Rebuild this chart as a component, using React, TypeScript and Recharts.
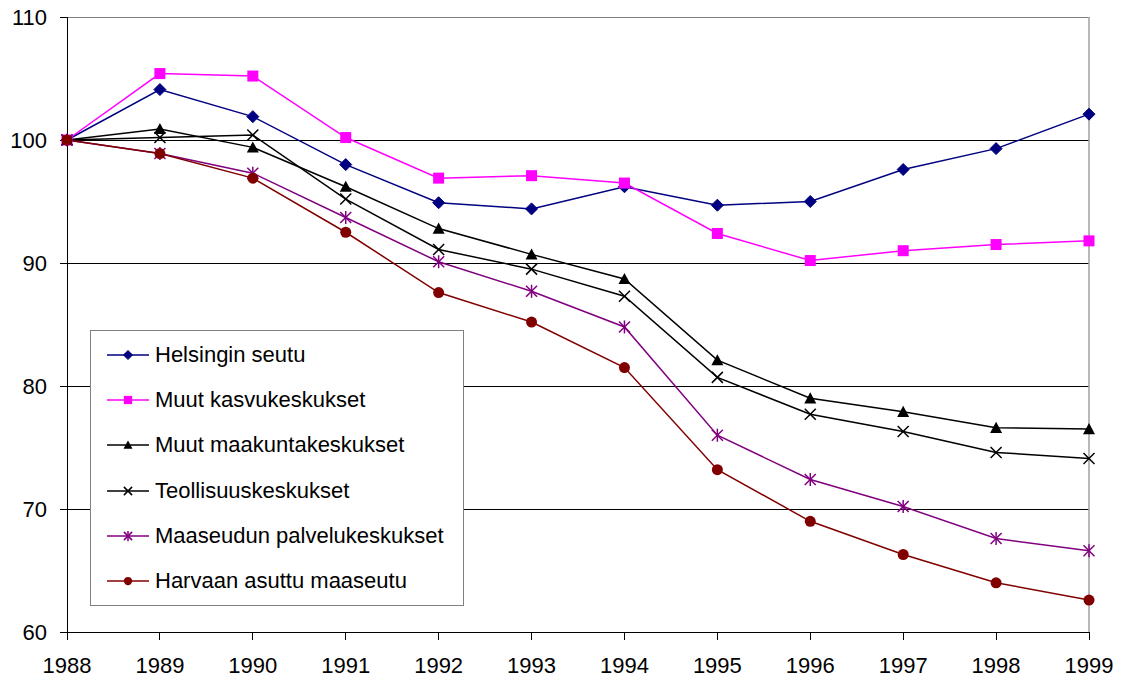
import { CartesianGrid, Line, LineChart, ReferenceLine, XAxis, YAxis } from "recharts"

const years = ["1988", "1989", "1990", "1991", "1992", "1993", "1994", "1995", "1996", "1997", "1998", "1999"]
const helsinki = [100, 104.1, 101.9, 98.0, 94.9, 94.4, 96.2, 94.7, 95.0, 97.6, 99.3, 102.1]
const kasvu = [100, 105.4, 105.2, 100.2, 96.9, 97.1, 96.5, 92.4, 90.2, 91.0, 91.5, 91.8]
const maakunta = [100, 100.9, 99.4, 96.2, 92.8, 90.7, 88.7, 82.1, 79.0, 77.9, 76.6, 76.5]
const teollisuus = [100, 100.2, 100.4, 95.2, 91.1, 89.5, 87.3, 80.7, 77.7, 76.3, 74.6, 74.1]
const maaseutu = [100, 98.9, 97.3, 93.7, 90.1, 87.7, 84.8, 76.0, 72.4, 70.2, 67.6, 66.6]
const harvaan = [100, 98.9, 96.9, 92.5, 87.6, 85.2, 81.5, 73.2, 69.0, 66.3, 64.0, 62.6]
const yTicks = [60, 70, 80, 90, 100, 110]

const series = [
  { key: "h", name: "Helsingin seutu", values: helsinki, color: "#000080", kind: "diamond" },
  { key: "k", name: "Muut kasvukeskukset", values: kasvu, color: "#FF00FF", kind: "square" },
  { key: "m", name: "Muut maakuntakeskukset", values: maakunta, color: "#000000", kind: "triangle" },
  { key: "t", name: "Teollisuuskeskukset", values: teollisuus, color: "#000000", kind: "x" },
  { key: "p", name: "Maaseudun palvelukeskukset", values: maaseutu, color: "#800080", kind: "star" },
  { key: "r", name: "Harvaan asuttu maaseutu", values: harvaan, color: "#800000", kind: "circle" },
]

const data = years.map((year, i) => {
  const row: any = { year }
  series.forEach(s => { row[s.key] = s.values[i] })
  return row
})

const font = "'Liberation Sans', Arial, sans-serif"

const Marker = ({ kind, cx, cy, color, s = 1 }: any) => {
  if (kind === "diamond") {
    const d = 6 * s
    return <polygon points={`${cx},${cy - d} ${cx + d},${cy} ${cx},${cy + d} ${cx - d},${cy}`} fill={color} stroke={color} />
  }
  if (kind === "square") {
    const d = 5.5 * s
    return <rect x={cx - d} y={cy - d} width={d * 2} height={d * 2} fill={color} />
  }
  if (kind === "triangle") {
    const d = 6 * s
    return <polygon points={`${cx},${cy - d} ${cx + d},${cy + d * 0.85} ${cx - d},${cy + d * 0.85}`} fill={color} />
  }
  if (kind === "x") {
    const d = 5.5 * s
    return (
      <g stroke={color} strokeWidth={1.5}>
        <line x1={cx - d} y1={cy - d} x2={cx + d} y2={cy + d} />
        <line x1={cx - d} y1={cy + d} x2={cx + d} y2={cy - d} />
      </g>
    )
  }
  if (kind === "star") {
    const d = 5.5 * s
    return (
      <g stroke={color} strokeWidth={1.5}>
        <line x1={cx - d} y1={cy - d} x2={cx + d} y2={cy + d} />
        <line x1={cx - d} y1={cy + d} x2={cx + d} y2={cy - d} />
        <line x1={cx} y1={cy - d - 1} x2={cx} y2={cy + d + 1} />
      </g>
    )
  }
  return <circle cx={cx} cy={cy} r={5.5 * s} fill={color} />
}

// legend drawn over the plot, like the excel one
const LegendBox = () => (
  <div style={{ position: "absolute", left: 90, top: 330, width: 372, height: 274, border: "1px solid #808080", background: "#fff" }}>
    {series.map((s, i) => (
      <div key={s.key} style={{ position: "absolute", left: 16, top: 9 + i * 45.2, height: 30, display: "flex", alignItems: "center" }}>
        <svg width={42} height={30}>
          <line x1={0} y1={15} x2={42} y2={15} stroke={s.color} strokeWidth={1.5} />
          <Marker kind={s.kind} cx={21} cy={15} color={s.color} s={0.75} />
        </svg>
        <span style={{ marginLeft: 6, fontFamily: font, fontSize: 22, color: "#000", whiteSpace: "nowrap" }}>{s.name}</span>
      </div>
    ))}
  </div>
)

const App = () => {
  return (
    <div style={{ position: "absolute", left: 0, top: 0, width: 1122, height: 679, background: "#fff" }}>
      <LineChart width={1122} height={679} data={data} margin={{ top: 17, right: 33, bottom: 0, left: 0 }}>
        <CartesianGrid horizontal={true} vertical={false} stroke="#000" shapeRendering="crispEdges" horizontalValues={[70, 80, 90, 100]} />
        <XAxis
          dataKey="year"
          height={47}
          stroke="#000"
          tickSize={8}
          tickMargin={17}
          interval={0}
          padding={{ left: 0, right: 0 }}
          shapeRendering="crispEdges"
          tick={{ fill: "#000", fontFamily: font, fontSize: 22 }}
        />
        <YAxis
          width={67}
          domain={[60, 110]}
          ticks={yTicks}
          stroke="#000"
          tickSize={7}
          tickMargin={13}
          interval={0}
          shapeRendering="crispEdges"
          tick={{ fill: "#000", fontFamily: font, fontSize: 22 }}
        />
        <ReferenceLine y={110} stroke="#808080" shapeRendering="crispEdges" />
        <ReferenceLine x="1999" stroke="#a0a0a0" strokeWidth={1.5} />
        {series.map(s => (
          <Line
            key={s.key}
            dataKey={s.key}
            name={s.name}
            stroke={s.color}
            strokeWidth={1.5}
            isAnimationActive={false}
            dot={(p: any) => <Marker key={`${s.key}-${p.index}`} kind={s.kind} cx={p.cx} cy={p.cy} color={s.color} />}
            activeDot={false}
          />
        ))}
      </LineChart>
      <LegendBox />
    </div>
  )
}

export default App
